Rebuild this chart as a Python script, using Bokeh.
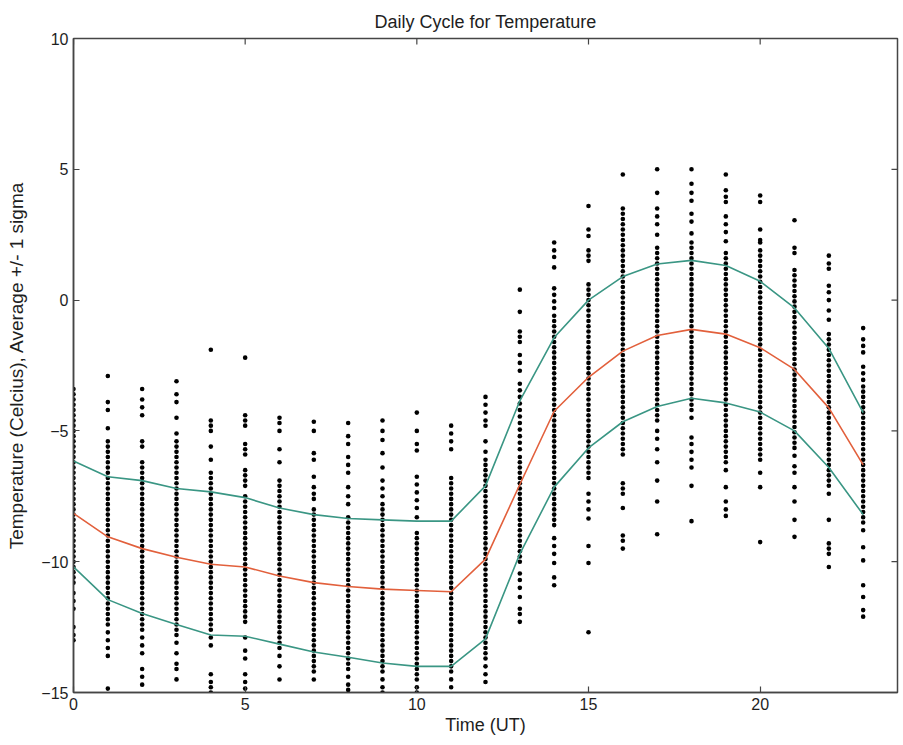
import math
from bokeh.plotting import figure
from bokeh.models import Range1d, FixedTicker, ColumnDataSource
from bokeh.embed import file_html
from bokeh.resources import INLINE

hours = list(range(24))
mean_temp = [-8.15, -9.05, -9.5, -9.83, -10.1, -10.2, -10.55, -10.8, -10.95, -11.05, -11.1, -11.15,
             -9.9, -7.05, -4.25, -2.95, -1.95, -1.35, -1.12, -1.3, -1.82, -2.65, -4.12, -6.3]
upper_sigma = [-6.15, -6.75, -6.9, -7.2, -7.33, -7.55, -7.95, -8.2, -8.35, -8.4, -8.45, -8.45,
               -7.1, -3.85, -1.43, 0.0, 0.9, 1.38, 1.52, 1.32, 0.72, -0.3, -1.85, -4.3]
lower_sigma = [-10.2, -11.45, -11.98, -12.4, -12.8, -12.85, -13.15, -13.45, -13.65, -13.87, -14.0, -14.0,
               -12.95, -9.7, -7.15, -5.65, -4.65, -4.07, -3.75, -3.93, -4.28, -5.0, -6.4, -8.2]

x_ticks = [0, 5, 10, 15, 20]
y_ticks = [-15, -10, -5, 0, 5, 10]
x_min, x_max = 0, 24
y_min, y_max = -15, 10

hour_00 = [-3.4,-3.6,-3.8,-4.0,-4.2,-4.4,-4.6,-4.8,-5.0,-5.2,-5.4,-5.6,-5.8,-6.0,-6.2,-6.4,-6.6,-6.8,-7.0,-7.2,-7.4,-7.6,-7.8,-8.0,-8.2,-8.4,-8.6,-8.8,-9.0,-9.2,-9.4,-9.6,-9.8,-10.0,-10.2,-10.4,-10.6,-10.8,-11.2,-11.5,-11.8,-12.5,-12.8,-13.0]
hour_01 = [-2.9,-3.9,-4.2,-4.9,-5.4,-5.6,-5.8,-6.0,-6.2,-6.4,-6.6,-6.8,-7.0,-7.2,-7.4,-7.6,-7.8,-8.0,-8.2,-8.4,-8.6,-8.8,-9.0,-9.2,-9.4,-9.6,-9.8,-10.0,-10.2,-10.4,-10.6,-10.8,-11.0,-11.2,-11.4,-11.6,-11.8,-12.0,-12.2,-12.4,-12.7,-13.0,-13.3,-13.6,-14.85]
hour_02 = [-3.4,-3.8,-4.1,-4.4,-5.4,-5.6,-6.2,-6.4,-6.6,-6.8,-7.0,-7.2,-7.4,-7.6,-7.8,-8.0,-8.2,-8.4,-8.6,-8.8,-9.0,-9.2,-9.4,-9.6,-9.8,-10.0,-10.2,-10.4,-10.6,-10.8,-11.0,-11.2,-11.4,-11.6,-11.8,-12.0,-12.2,-12.4,-12.6,-12.9,-13.2,-13.5,-14.1,-14.4,-14.7]
hour_03 = [-3.1,-3.6,-3.9,-4.5,-5.1,-5.4,-5.6,-5.8,-6.0,-6.2,-6.4,-6.6,-6.8,-7.0,-7.2,-7.4,-7.6,-7.8,-8.0,-8.2,-8.4,-8.6,-8.8,-9.0,-9.2,-9.4,-9.6,-9.8,-10.0,-10.2,-10.4,-10.6,-10.8,-11.0,-11.2,-11.4,-11.6,-11.8,-12.0,-12.2,-12.4,-12.6,-12.8,-13.1,-13.5,-13.9,-14.1,-14.5]
hour_04 = [-1.9,-4.6,-4.8,-5.0,-5.6,-6.1,-6.6,-6.8,-7.0,-7.2,-7.4,-7.6,-7.8,-8.0,-8.2,-8.4,-8.6,-8.8,-9.0,-9.2,-9.4,-9.6,-9.8,-10.0,-10.2,-10.4,-10.6,-10.8,-11.0,-11.2,-11.4,-11.6,-11.8,-12.0,-12.2,-12.4,-12.6,-12.9,-13.2,-14.3,-14.6,-14.8,-15.0]
hour_05 = [-2.2,-4.4,-4.6,-4.8,-5.5,-5.7,-5.9,-6.5,-6.7,-6.9,-7.1,-7.5,-7.7,-7.9,-8.1,-8.3,-8.5,-8.7,-8.9,-9.1,-9.3,-9.5,-9.7,-9.9,-10.1,-10.3,-10.5,-10.7,-10.9,-11.1,-11.3,-11.5,-11.7,-11.9,-12.1,-12.3,-12.9,-13.4,-13.7,-14.3,-14.6,-14.85]
hour_06 = [-4.5,-4.7,-5.0,-5.7,-6.2,-6.9,-7.1,-7.3,-7.5,-7.7,-7.9,-8.1,-8.3,-8.5,-8.7,-8.9,-9.1,-9.3,-9.5,-9.7,-9.9,-10.1,-10.3,-10.5,-10.7,-10.9,-11.1,-11.3,-11.5,-11.7,-11.9,-12.1,-12.3,-12.5,-12.7,-12.9,-13.1,-13.3,-13.6,-14.0,-14.5]
hour_07 = [-4.65,-5.0,-5.85,-6.1,-6.75,-7.15,-7.4,-7.6,-8.0,-8.2,-8.4,-8.6,-8.8,-9.0,-9.2,-9.4,-9.6,-9.8,-10.0,-10.2,-10.4,-10.6,-10.8,-11.0,-11.2,-11.4,-11.6,-11.8,-12.0,-12.2,-12.4,-12.6,-12.8,-13.0,-13.2,-13.4,-13.6,-13.8,-14.0,-14.2,-14.5]
hour_08 = [-4.7,-5.2,-5.5,-6.0,-6.3,-6.6,-7.15,-7.5,-7.8,-8.3,-8.5,-8.7,-8.9,-9.1,-9.3,-9.5,-9.7,-9.9,-10.1,-10.3,-10.5,-10.7,-10.9,-11.1,-11.3,-11.5,-11.7,-11.9,-12.1,-12.3,-12.5,-12.7,-12.9,-13.1,-13.3,-13.5,-13.7,-13.9,-14.1,-14.4,-14.7,-14.9]
hour_09 = [-4.6,-5.0,-5.35,-5.85,-6.4,-6.9,-7.2,-7.5,-7.8,-8.0,-8.2,-8.4,-8.6,-8.8,-9.0,-9.2,-9.4,-9.6,-9.8,-10.0,-10.2,-10.4,-10.6,-10.8,-11.0,-11.2,-11.4,-11.6,-11.8,-12.0,-12.2,-12.4,-12.6,-12.8,-13.0,-13.2,-13.4,-13.6,-13.8,-14.0,-14.2,-14.5,-14.8,-15.0]
hour_10 = [-4.3,-5.0,-5.5,-5.75,-6.75,-7.05,-7.35,-7.65,-7.95,-8.3,-8.9,-9.1,-9.3,-9.5,-9.7,-9.9,-10.1,-10.3,-10.5,-10.7,-10.9,-11.1,-11.3,-11.5,-11.7,-11.9,-12.1,-12.3,-12.5,-12.7,-12.9,-13.1,-13.3,-13.5,-13.7,-13.9,-14.1,-14.3,-14.5,-14.8,-15.0]
hour_11 = [-4.8,-5.1,-5.4,-5.7,-6.8,-7.0,-7.2,-7.4,-7.6,-7.8,-8.0,-8.2,-8.4,-8.6,-8.8,-9.0,-9.2,-9.4,-9.6,-9.8,-10.0,-10.2,-10.4,-10.6,-10.8,-11.0,-11.2,-11.4,-11.6,-11.8,-12.0,-12.2,-12.4,-12.6,-12.8,-13.0,-13.2,-13.4,-13.6,-13.8,-14.0,-14.2,-14.5,-14.8]
hour_12 = [-3.7,-4.0,-4.3,-4.6,-4.8,-5.4,-5.8,-6.1,-6.3,-6.5,-6.7,-6.9,-7.1,-7.3,-7.5,-7.7,-7.9,-8.1,-8.3,-8.5,-8.7,-8.9,-9.1,-9.3,-9.5,-9.7,-9.9,-10.1,-10.3,-10.5,-10.7,-10.9,-11.1,-11.3,-11.5,-11.7,-11.9,-12.1,-12.3,-12.5,-12.7,-12.9,-13.1,-13.3,-13.5,-13.7,-14.0,-14.3,-14.6]
hour_13 = [0.4,-0.45,-1.2,-1.4,-1.6,-2.1,-2.4,-2.7,-3.2,-3.45,-3.7,-3.95,-4.2,-4.45,-4.7,-4.95,-5.2,-5.45,-5.7,-6.0,-6.2,-6.4,-6.6,-6.8,-7.0,-7.2,-7.4,-7.6,-7.8,-8.0,-8.2,-8.4,-8.6,-8.8,-9.0,-9.2,-9.4,-9.6,-9.8,-10.0,-10.45,-10.7,-11.0,-11.35,-11.8,-12.0,-12.3]
hour_14 = [2.2,1.9,1.65,1.25,0.45,0.2,-0.05,-0.3,-0.6,-0.8,-1.0,-1.2,-1.4,-1.6,-1.8,-2.0,-2.2,-2.4,-2.6,-2.8,-3.0,-3.2,-3.4,-3.6,-3.8,-4.0,-4.2,-4.4,-4.6,-4.8,-5.0,-5.2,-5.4,-5.6,-5.8,-6.0,-6.2,-6.4,-6.6,-6.8,-7.0,-7.2,-7.4,-7.6,-7.8,-8.0,-8.2,-8.4,-8.6,-9.1,-9.4,-9.7,-10.05,-10.6,-10.9]
hour_15 = [3.6,2.7,2.45,1.9,1.7,1.5,0.6,0.4,0.2,0.0,-0.2,-0.4,-0.6,-0.8,-1.0,-1.2,-1.4,-1.6,-1.8,-2.0,-2.2,-2.4,-2.6,-2.8,-3.0,-3.2,-3.4,-3.6,-3.8,-4.0,-4.2,-4.4,-4.6,-4.8,-5.0,-5.2,-5.4,-5.6,-5.8,-6.0,-6.2,-6.4,-6.6,-6.8,-7.4,-7.7,-8.0,-8.35,-9.4,-10.05,-12.7]
hour_16 = [4.8,3.5,3.3,3.1,2.9,2.7,2.5,2.3,2.1,1.9,1.7,1.5,1.3,1.1,0.9,0.7,0.5,0.3,0.1,-0.1,-0.3,-0.5,-0.7,-0.9,-1.1,-1.3,-1.5,-1.7,-1.9,-2.1,-2.3,-2.5,-2.7,-2.9,-3.1,-3.3,-3.5,-3.7,-3.9,-4.1,-4.3,-4.5,-4.7,-4.9,-5.1,-5.3,-5.5,-5.7,-5.9,-7.0,-7.2,-7.4,-7.95,-9.0,-9.2,-9.5]
hour_17 = [5.0,4.1,3.5,3.2,2.9,2.5,2.0,1.8,1.6,1.4,1.2,1.0,0.8,0.6,0.4,0.2,0.0,-0.2,-0.4,-0.6,-0.8,-1.0,-1.2,-1.4,-1.6,-1.8,-2.0,-2.2,-2.4,-2.6,-2.8,-3.0,-3.2,-3.4,-3.6,-3.8,-4.0,-4.2,-4.4,-4.6,-5.0,-5.3,-5.7,-6.2,-6.9,-7.7,-8.95]
hour_18 = [5.0,4.45,4.1,3.8,3.3,3.0,2.55,2.2,2.0,1.8,1.6,1.4,1.2,1.0,0.8,0.6,0.4,0.2,0.0,-0.2,-0.4,-0.6,-0.8,-1.0,-1.2,-1.4,-1.6,-1.8,-2.0,-2.2,-2.4,-2.6,-2.8,-3.0,-3.2,-3.4,-3.6,-3.8,-4.0,-4.2,-4.5,-5.25,-5.5,-5.8,-6.1,-6.4,-7.1,-8.45]
hour_19 = [4.8,4.2,3.95,3.75,3.2,2.9,2.6,2.25,1.8,1.6,1.4,1.2,1.0,0.8,0.6,0.4,0.2,0.0,-0.2,-0.4,-0.6,-0.8,-1.0,-1.2,-1.4,-1.6,-1.8,-2.0,-2.2,-2.4,-2.6,-2.8,-3.0,-3.2,-3.4,-3.6,-3.8,-4.0,-4.2,-4.4,-4.6,-4.8,-5.0,-5.2,-5.4,-5.6,-5.8,-6.0,-6.2,-6.5,-7.15,-7.7,-8.0,-8.25]
hour_20 = [4.0,3.75,2.7,2.3,2.2,1.9,1.7,1.5,1.3,1.1,0.9,0.7,0.5,0.3,0.1,-0.1,-0.3,-0.5,-0.7,-0.9,-1.1,-1.3,-1.5,-1.7,-1.9,-2.1,-2.3,-2.5,-2.7,-2.9,-3.1,-3.3,-3.5,-3.7,-3.9,-4.1,-4.3,-4.5,-4.7,-4.9,-5.1,-5.3,-5.5,-5.7,-5.9,-6.1,-6.6,-7.15,-9.25]
hour_21 = [3.05,2.0,1.8,1.15,0.95,0.75,0.55,0.35,0.15,-0.05,-0.25,-0.45,-0.65,-0.85,-1.05,-1.25,-1.45,-1.65,-1.85,-2.05,-2.25,-2.45,-2.65,-2.85,-3.05,-3.25,-3.45,-3.65,-3.85,-4.05,-4.25,-4.45,-4.65,-4.85,-5.05,-5.25,-5.45,-5.65,-5.95,-6.35,-6.6,-7.15,-7.7,-8.4,-9.05]
hour_22 = [1.7,1.4,1.2,0.55,0.3,0.0,-0.4,-0.75,-1.3,-1.5,-1.7,-1.9,-2.1,-2.3,-2.5,-2.7,-2.9,-3.1,-3.3,-3.5,-3.7,-3.9,-4.1,-4.3,-4.5,-4.7,-4.9,-5.1,-5.3,-5.5,-5.7,-5.9,-6.1,-6.3,-6.5,-6.7,-6.9,-7.1,-7.4,-8.4,-9.3,-9.5,-9.7,-10.2]
hour_23 = [-1.07,-1.5,-1.75,-2.0,-2.55,-2.8,-3.05,-3.3,-3.5,-3.7,-3.9,-4.1,-4.3,-4.5,-4.7,-4.9,-5.1,-5.3,-5.5,-5.7,-5.9,-6.1,-6.3,-6.5,-6.7,-6.9,-7.1,-7.3,-7.5,-7.7,-7.9,-8.1,-8.3,-8.5,-8.8,-9.45,-9.95,-10.9,-11.35,-11.85,-12.1]

obs_by_hour = [hour_00, hour_01, hour_02, hour_03, hour_04, hour_05, hour_06, hour_07,
               hour_08, hour_09, hour_10, hour_11, hour_12, hour_13, hour_14, hour_15,
               hour_16, hour_17, hour_18, hour_19, hour_20, hour_21, hour_22, hour_23]

obs_x, obs_y = [], []
for h, vals in zip(hours, obs_by_hour):
    obs_x.extend([h] * len(vals))
    obs_y.extend(vals)

FONT = "Liberation Sans"
FRAME = "#454545"
TEXT = "#1e1e1e"

p = figure(width=900, height=742, output_backend="svg", toolbar_location=None,
           x_range=Range1d(x_min, x_max), y_range=Range1d(y_min, y_max),
           min_border_left=73, min_border_right=3, min_border_top=38, min_border_bottom=50,
           title="Daily Cycle for Temperature")
p.background_fill_color = "white"
p.border_fill_color = "white"
p.outline_line_color = FRAME
p.outline_line_width = 1.5
p.grid.visible = False

p.title.align = "center"
p.title.text_font = FONT
p.title.text_font_size = "18px"
p.title.text_font_style = "normal"
p.title.text_color = TEXT
p.title.offset = 0
p.title.standoff = 13

for ax, ticks in ((p.xaxis[0], x_ticks), (p.yaxis[0], y_ticks)):
    ax.ticker = FixedTicker(ticks=ticks)
    ax.major_tick_in = 6
    ax.major_tick_out = 0
    ax.minor_tick_line_color = None
    ax.axis_line_color = FRAME
    ax.axis_line_width = 1.5
    ax.major_tick_line_color = FRAME
    ax.major_tick_line_width = 1.2
    ax.major_label_text_font = FONT
    ax.major_label_text_font_size = "16px"
    ax.major_label_text_color = TEXT
    ax.major_label_standoff = 5
    ax.axis_label_text_font = FONT
    ax.axis_label_text_font_style = "normal"
    ax.axis_label_text_color = TEXT

p.xaxis[0].axis_label = "Time (UT)"
p.xaxis[0].axis_label_text_font_size = "18px"
p.xaxis[0].axis_label_standoff = 2
p.yaxis[0].axis_label = "Temperature (Celcius), Average +/- 1 sigma"
p.yaxis[0].axis_label_text_font_size = "19px"
p.yaxis[0].axis_label_standoff = 11

# mirrored inward ticks on the top and right edges (half of each marker is clipped by the frame)
p.scatter(x_ticks, [y_max] * len(x_ticks), marker="dash", angle=math.pi / 2, size=12,
          line_color=FRAME, line_width=1.2)
p.scatter([x_max] * len(y_ticks), y_ticks, marker="dash", size=12,
          line_color=FRAME, line_width=1.2)

obs_src = ColumnDataSource(dict(x=obs_x, y=obs_y))
p.scatter("x", "y", source=obs_src, marker="circle", size=4.6,
          fill_color="black", line_color=None)

line_src = ColumnDataSource(dict(h=hours, mean=mean_temp, up=upper_sigma, lo=lower_sigma))
p.line("h", "up", source=line_src, line_color="#3a9684", line_width=1.6)
p.line("h", "lo", source=line_src, line_color="#3a9684", line_width=1.6)
p.line("h", "mean", source=line_src, line_color="#e2603c", line_width=1.6)

open("out.html", "w").write(file_html(p, INLINE))
